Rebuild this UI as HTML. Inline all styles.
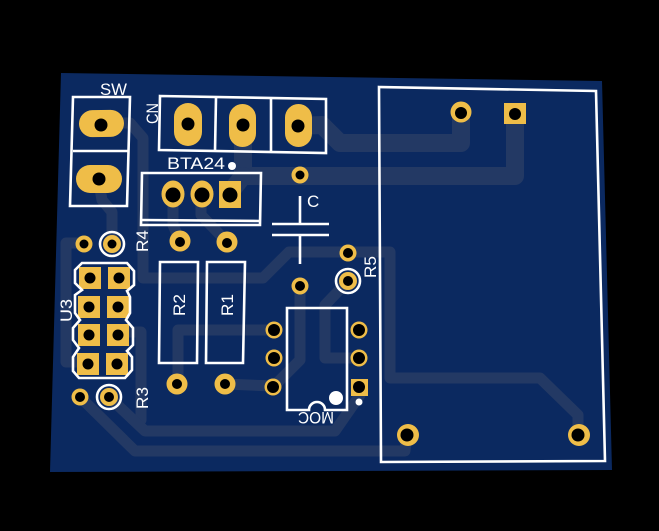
<!DOCTYPE html>
<html><head><meta charset="utf-8"><style>
html,body{margin:0;padding:0;background:#000}svg{display:block}
text{font-family:"Liberation Sans",sans-serif;fill:#fff;font-size:17px}
</style></head><body>
<svg width="659" height="531" viewBox="0 0 659 531" xmlns="http://www.w3.org/2000/svg">
<rect width="659" height="531" fill="#000"/>
<polygon points="61,73 602,81 612,470 50,472" fill="#0b2960"/>
<g fill="none" stroke="#233964" stroke-linejoin="round" stroke-linecap="round">
<g stroke-width="18">
<polyline points="297,126 322,125 340,143 461,143 461,113"/>
<polyline points="243,126 243,176 515,176 515,113"/>
<polyline points="243,176 228,195"/>
</g>
<g stroke-width="11">
<polyline points="98,178 102,200 112,212 112,243"/>
<polyline points="100,123 130,123 143,138 143,278 263,278 289,252 390,252 390,378 540,378 578,415 578,434"/>
<polyline points="83,243 66,243 66,362 88,362"/>
<polyline points="173,195 173,225 180,241"/>
<polyline points="201,195 201,215 226,241"/>
<polyline points="178,384 178,330 274,330"/>
<polyline points="225,384 273,386"/>
<polyline points="300,286 300,360 275,385"/>
<polyline points="348,281 325,305 325,358 359,358"/>
<polyline points="118,332 141,332 141,420"/>
<polyline points="109,397 145,431 335,431 360,395"/>
<polyline points="80,397 135,451 405,451 407,435"/>
</g>
</g>
<g fill="#efbd48">
<rect x="79" y="110" width="45" height="27" rx="13.5" transform="rotate(-1 101 124)"/>
<rect x="76" y="165" width="46" height="28" rx="14"/>
<rect x="174" y="103" width="28" height="43" rx="14"/>
<rect x="229" y="104" width="27" height="43" rx="13.5"/>
<rect x="285" y="104" width="27" height="43" rx="13.5"/>
<ellipse cx="173" cy="194" rx="11.5" ry="13.5"/>
<ellipse cx="202" cy="194" rx="11.5" ry="13.5"/>
<rect x="219" y="181" width="22" height="27"/>
<circle cx="300" cy="175" r="8.5"/>
<circle cx="84" cy="244" r="8.5"/>
<circle cx="112" cy="244" r="9"/>
<circle cx="180" cy="241" r="10.5"/>
<circle cx="227" cy="242" r="10.5"/>
<circle cx="348" cy="253" r="8.5"/>
<circle cx="348" cy="281" r="9"/>
<circle cx="300" cy="286" r="8.5"/>
<circle cx="177" cy="384" r="10.5"/>
<circle cx="225" cy="384" r="10.5"/>
<circle cx="274" cy="330" r="8.5"/>
<circle cx="274" cy="358" r="8.5"/>
<circle cx="273" cy="387" r="8.5"/>
<circle cx="359" cy="330" r="8.5"/>
<circle cx="359" cy="358" r="8.5"/>
<rect x="351" y="379" width="17" height="17"/>
<circle cx="80" cy="397" r="8.5"/>
<circle cx="109" cy="397" r="9"/>
<circle cx="461" cy="112" r="10.5"/>
<rect x="504" y="103" width="22" height="21"/>
<circle cx="408" cy="435" r="11"/>
<circle cx="579" cy="435" r="11"/>
<rect x="79" y="267" width="22" height="22"/><rect x="108" y="267" width="22" height="22"/>
<rect x="78" y="296" width="22" height="22"/><rect x="107" y="296" width="22" height="22"/>
<rect x="78" y="324" width="22" height="22"/><rect x="107" y="324" width="22" height="22"/>
<rect x="77" y="353" width="22" height="22"/><rect x="106" y="353" width="22" height="22"/>
</g>
<g fill="#000">
<circle cx="101" cy="125" r="6.5"/><circle cx="99" cy="179" r="6.5"/>
<circle cx="188" cy="124" r="6.5"/><circle cx="243" cy="125" r="6.5"/><circle cx="298" cy="126" r="6.5"/>
<circle cx="173" cy="195" r="7.5"/><circle cx="202" cy="195" r="7.5"/><circle cx="230" cy="195" r="7.5"/>
<circle cx="300" cy="175" r="4.5"/><circle cx="84" cy="244" r="4.5"/><circle cx="112" cy="244" r="4.5"/>
<circle cx="180" cy="242" r="5"/><circle cx="227" cy="243" r="5"/>
<circle cx="348" cy="253" r="5"/><circle cx="348" cy="281" r="5"/><circle cx="300" cy="286" r="5"/>
<circle cx="177" cy="384" r="5"/><circle cx="225" cy="384" r="5"/>
<circle cx="274" cy="330" r="6"/><circle cx="274" cy="358" r="6"/><circle cx="273" cy="387" r="6"/>
<circle cx="359" cy="330" r="6"/><circle cx="359" cy="358" r="6"/><circle cx="359" cy="387" r="6"/>
<circle cx="80" cy="397" r="5"/><circle cx="109" cy="397" r="5"/>
<circle cx="461" cy="113" r="6"/><circle cx="515" cy="114" r="6"/>
<circle cx="407" cy="435" r="6.5"/><circle cx="578" cy="435" r="6.5"/>
<circle cx="90" cy="278" r="5.5"/><circle cx="119" cy="278" r="5.5"/>
<circle cx="89" cy="307" r="5.5"/><circle cx="118" cy="307" r="5.5"/>
<circle cx="89" cy="335" r="5.5"/><circle cx="118" cy="335" r="5.5"/>
<circle cx="88" cy="364" r="5.5"/><circle cx="117" cy="364" r="5.5"/>
</g>
<g fill="none" stroke="#fff" stroke-width="2.6">
<polygon points="73,97 130,97 127,206 70,206"/>
<line x1="73" y1="151" x2="128" y2="151"/>
<polygon points="160,96 326,99 326,153 159,150"/>
<line x1="216" y1="98" x2="215" y2="151"/>
<line x1="271" y1="98" x2="271" y2="152"/>
<polygon points="142,173 261,173 260,225 141,225"/>
<line x1="142" y1="220" x2="260" y2="221"/>
<line x1="300" y1="196" x2="300" y2="224"/>
<line x1="272" y1="224" x2="329" y2="224"/>
<line x1="272" y1="235" x2="329" y2="235"/>
<line x1="300" y1="235" x2="300" y2="264"/>
<circle cx="112" cy="244" r="12"/>
<circle cx="348" cy="281" r="12"/>
<circle cx="109" cy="397" r="12"/>
<polygon points="160,262 198,262 197,363 159,363"/>
<polygon points="207,262 245,262 243,363 206,363"/>
<path d="M287,410 L287,308 L347,308 L347,410 L325,410 A8,8 0 0 0 309,410 Z"/>
<polygon points="379,87 596,91 605,461 381,462"/>
<polygon points="82,263 127,263 134,271 134,285 127,291 130,297 130,313 126,320 133,328 133,345 127,351 132,357 132,370 125,378 79,378 73,371 73,357 79,348 73,340 73,328 80,320 75,313 75,295 82,290 75,283 75,270"/>
</g>
<circle cx="232" cy="166" r="4" fill="#fff"/>
<circle cx="336" cy="398" r="7" fill="#fff"/>
<circle cx="359" cy="402" r="3.5" fill="#fff"/>
<text x="100" y="95" textLength="27" lengthAdjust="spacingAndGlyphs">SW</text>
<text x="167" y="169" textLength="58" lengthAdjust="spacingAndGlyphs">BTA24</text>
<text x="307" y="207">C</text>
<text transform="translate(158,124) rotate(-90)" textLength="21" lengthAdjust="spacingAndGlyphs">CN</text>
<text transform="translate(148,252) rotate(-90)" textLength="22" lengthAdjust="spacingAndGlyphs">R4</text>
<text transform="translate(148,409) rotate(-90)" textLength="22" lengthAdjust="spacingAndGlyphs">R3</text>
<text transform="translate(376,278) rotate(-90)" textLength="22" lengthAdjust="spacingAndGlyphs">R5</text>
<text transform="translate(72,322) rotate(-90)" textLength="23" lengthAdjust="spacingAndGlyphs">U3</text>
<text transform="translate(185,316) rotate(-90)" textLength="22" lengthAdjust="spacingAndGlyphs">R2</text>
<text transform="translate(233,316) rotate(-90)" textLength="22" lengthAdjust="spacingAndGlyphs">R1</text>
<text transform="translate(334,412) rotate(180)" textLength="36" lengthAdjust="spacingAndGlyphs">MOC</text>
</svg>
</body></html>
